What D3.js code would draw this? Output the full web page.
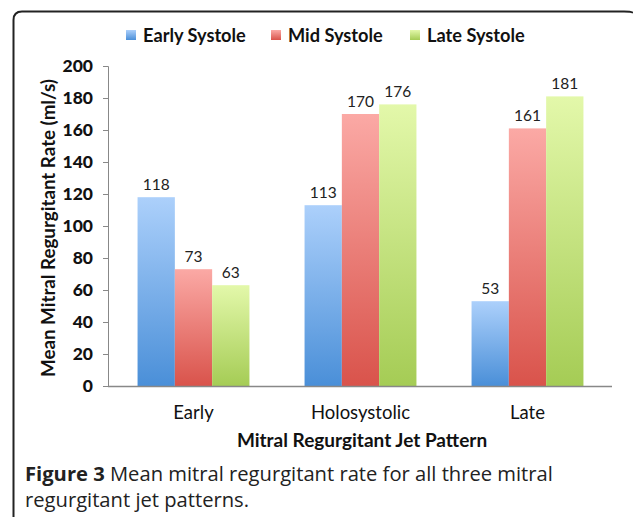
<!DOCTYPE html>
<html>
<head>
<meta charset="utf-8">
<script src="https://cdn.jsdelivr.net/npm/d3@7"></script>
<style>
body { margin: 0; background: #fff; }
svg { display: block; }
</style>
</head>
<body>
<svg id="chart" width="633" height="517"></svg>
<script>
const categories = ["Early", "Holosystolic", "Late"];
const seriesNames = ["Early Systole", "Mid Systole", "Late Systole"];
const earlySystole = [118, 113, 53];
const midSystole = [73, 170, 161];
const lateSystole = [63, 176, 181];
const yTicks = [0, 20, 40, 60, 80, 100, 120, 140, 160, 180, 200];
const seriesValues = [earlySystole, midSystole, lateSystole];
const seriesColors = [
  { top: "#acd0fb", bottom: "#4a8fd8" },
  { top: "#fba9a5", bottom: "#d9534b" },
  { top: "#e3f8aa", bottom: "#a5cc55" }
];

const svg = d3.select("#chart");
const font = "Lato, sans-serif";

// fit a text element's font size so that its length matches a target
function fitLength(sel, target) {
  const node = sel.node();
  const len = node.getComputedTextLength();
  const fs = parseFloat(sel.attr("font-size"));
  if (len > 0) sel.attr("font-size", (fs * target / len).toFixed(2));
}

// frame
svg.append("path")
  .attr("d", "M13.5,517 L13.5,20 Q13.5,11.5 22,11.5 L624,11.5 Q632,11.5 633,13")
  .attr("fill", "none").attr("stroke", "#222").attr("stroke-width", 2);

const defs = svg.append("defs");
seriesColors.forEach((c, i) => {
  const g = defs.append("linearGradient").attr("id", "grad" + i)
    .attr("x1", 0).attr("y1", 0).attr("x2", 0).attr("y2", 1);
  g.append("stop").attr("offset", "0%").attr("stop-color", c.top);
  g.append("stop").attr("offset", "100%").attr("stop-color", c.bottom);
});

const x0 = d3.scaleBand().domain(categories).range([110, 611]).paddingInner(0.33).paddingOuter(0.165);
const x1 = d3.scaleBand().domain(seriesNames).range([0, x0.bandwidth()]);
const y = d3.scaleLinear().domain([0, 200]).range([386, 66]);

// y axis
const yAxis = svg.append("g").attr("transform", "translate(108,0)")
  .call(d3.axisLeft(y).tickValues(yTicks).tickSize(5).tickPadding(10).tickFormat(d3.format("d")));
yAxis.select(".domain").attr("stroke", "#888").attr("d", "M-5,66.5H0.5V386.5");
yAxis.selectAll(".tick line").attr("stroke", "#888");
yAxis.selectAll(".tick text").attr("fill", "#111").attr("font-family", font)
  .attr("font-size", 17.5).attr("font-weight", 900);

// bars
const groups = svg.append("g").selectAll("g").data(categories).join("g")
  .attr("transform", d => `translate(${x0(d)},0)`);
groups.selectAll("rect").data((d, ci) => seriesNames.map((s, si) => ({ s, si, v: seriesValues[si][ci] })))
  .join("rect")
  .attr("x", d => x1(d.s)).attr("width", x1.bandwidth())
  .attr("y", d => y(d.v)).attr("height", d => y(0) - y(d.v))
  .attr("fill", d => `url(#grad${d.si})`);
groups.selectAll("text").data((d, ci) => seriesNames.map((s, si) => ({ s, si, v: seriesValues[si][ci] })))
  .join("text")
  .attr("x", d => x1(d.s) + x1.bandwidth() / 2).attr("y", d => y(d.v) - 7)
  .attr("text-anchor", "middle").attr("font-family", font).attr("font-size", 15.5)
  .attr("fill", "#222").text(d => d.v);

// x axis line
svg.append("line").attr("x1", 108).attr("x2", 612).attr("y1", 386.5).attr("y2", 386.5)
  .attr("stroke", "#888").attr("stroke-width", 1.5);

// category labels
svg.append("g").selectAll("text").data(categories).join("text")
  .attr("x", d => x0(d) + x0.bandwidth() / 2).attr("y", 419)
  .attr("text-anchor", "middle").attr("font-family", font).attr("font-size", 18.5)
  .attr("fill", "#111").text(d => d);

// axis titles
svg.append("text").attr("x", 362).attr("y", 447).attr("text-anchor", "middle")
  .attr("font-family", font).attr("font-size", 19).attr("font-weight", "bold").attr("fill", "#111")
  .text("Mitral Regurgitant Jet Pattern");
const yTitle = svg.append("text").attr("transform", "translate(55,228) rotate(-90)").attr("text-anchor", "middle")
  .attr("font-family", font).attr("font-size", 17.5).attr("font-weight", "bold").attr("fill", "#111")
  .text("Mean Mitral Regurgitant Rate (ml/s)");
fitLength(yTitle, 298);

// legend
const legendX = [126, 271, 410];
const lg = svg.append("g").selectAll("g").data(seriesNames).join("g")
  .attr("transform", (d, i) => `translate(${legendX[i]},0)`);
lg.append("rect").attr("x", 0).attr("y", 30).attr("width", 10).attr("height", 10)
  .attr("fill", (d, i) => `url(#grad${i})`);
lg.append("text").attr("x", 17).attr("y", 42).attr("font-family", font).attr("font-size", 18.2)
  .attr("font-weight", "bold").attr("fill", "#111").text(d => d);

// caption
const capFont = "'Open Sans', sans-serif";
const cap = svg.append("text").attr("x", 25).attr("y", 481).attr("font-family", capFont)
  .attr("font-size", 19.5).attr("fill", "#222");
cap.append("tspan").attr("font-weight", "bold").text("Figure 3");
cap.append("tspan").text(" Mean mitral regurgitant rate for all three mitral");
const cap2 = svg.append("text").attr("x", 25).attr("y", 507).attr("font-family", capFont)
  .attr("font-size", 19.5).attr("fill", "#222").text("regurgitant jet patterns.");
fitLength(cap, 528);
cap2.attr("font-size", cap.attr("font-size"));
</script>
</body>
</html>
